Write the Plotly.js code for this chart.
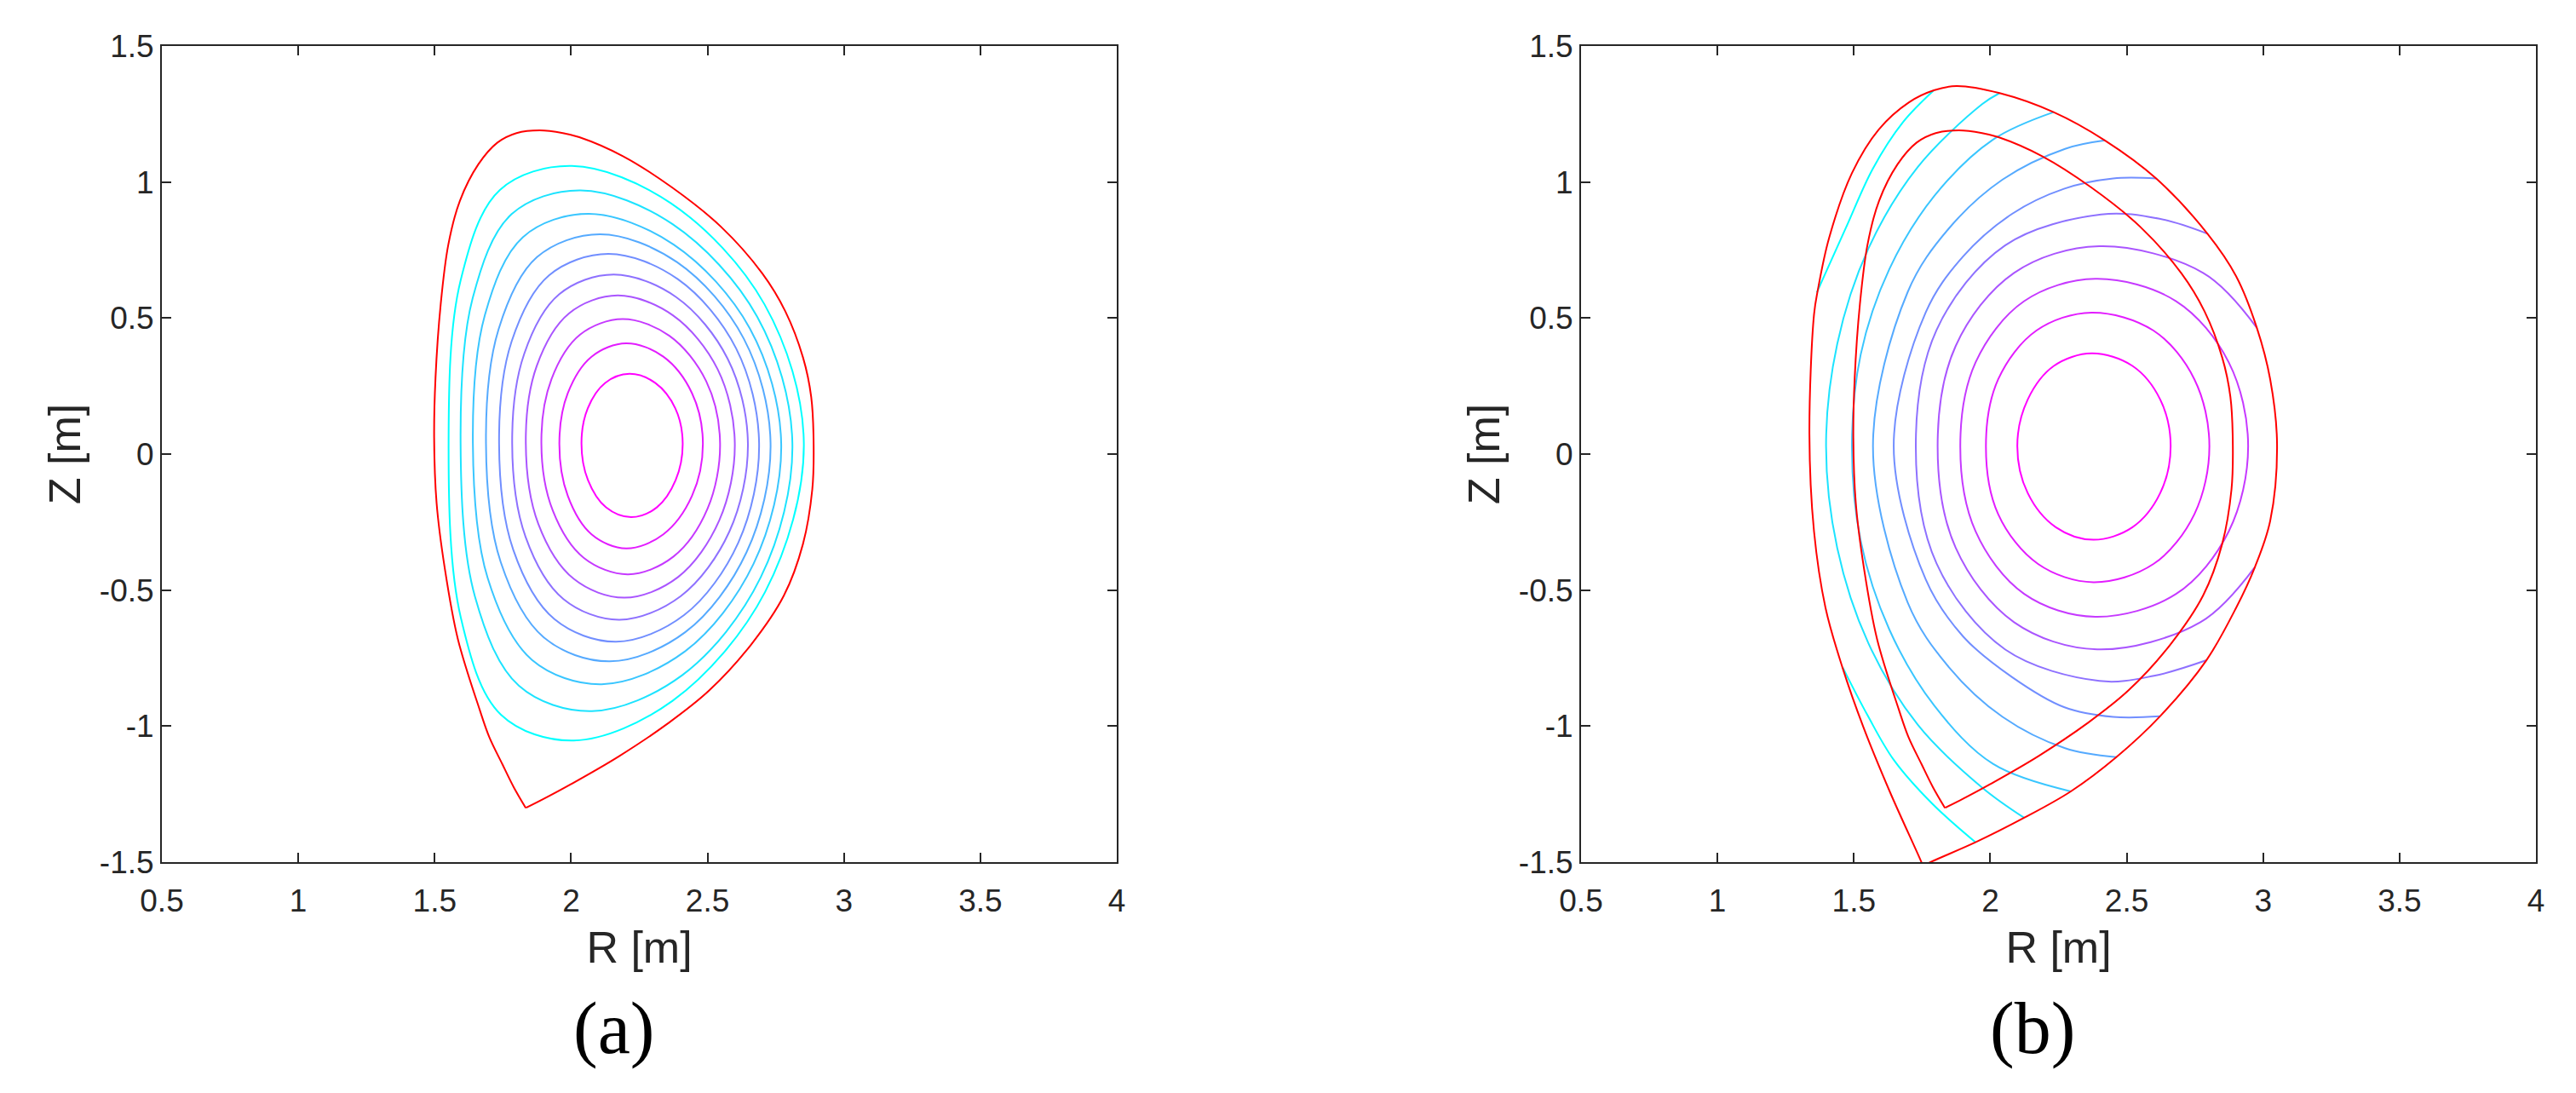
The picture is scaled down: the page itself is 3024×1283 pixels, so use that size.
<!DOCTYPE html>
<html>
<head>
<meta charset="utf-8">
<script src="https://cdn.plot.ly/plotly-3.0.1.min.js"></script>
<style>
html,body{margin:0;padding:0;background:#ffffff;}
#chart{width:3024px;height:1283px;}
</style>
</head>
<body>
<div id="chart"></div>
<script>
// ---------------- tick labels / texts ----------------
const xTickVals = [0.5, 1, 1.5, 2, 2.5, 3, 3.5, 4];
const xTickText = ["0.5", "1", "1.5", "2", "2.5", "3", "3.5", "4"];
const yTickVals = [-1.5, -1, -0.5, 0, 0.5, 1, 1.5];
const yTickText = ["-1.5", "-1", "-0.5", "0", "0.5", "1", "1.5"];
const panelLabels = ["(a)", "(b)"];
const xTitle = "R [m]";
const yTitle = "Z [m]";

// ---------------- last closed flux surface (red, shared by (a) and inner of (b)) ----------------
const lcfsR = [1.834, 1.790, 1.748, 1.700, 1.665, 1.585, 1.537, 1.507, 1.498, 1.503, 1.522, 1.550, 1.592, 1.660, 1.730, 1.800, 1.885, 1.970, 2.030, 2.190, 2.370, 2.550, 2.700, 2.785, 2.850, 2.880, 2.889, 2.884, 2.850, 2.780, 2.660, 2.505, 2.355, 2.175, 2.000, 1.900, 1.835];
const lcfsZ = [-1.301, -1.225, -1.140, -1.040, -0.940, -0.680, -0.420, -0.180, 0.060, 0.280, 0.550, 0.770, 0.930, 1.065, 1.145, 1.180, 1.190, 1.180, 1.165, 1.095, 0.980, 0.835, 0.665, 0.525, 0.355, 0.210, 0.030, -0.130, -0.330, -0.520, -0.700, -0.870, -0.990, -1.111, -1.213, -1.267, -1.300];

// ---------------- (a) flux contours, outer (1) to inner (10) ----------------
const aR1 = [2.853, 2.709, 2.366, 2.003, 1.739, 1.595, 1.551, 1.596, 1.743, 2.010, 2.372, 2.711, 2.853];
const aZ1 = [0.040, 0.550, 0.922, 1.059, 0.971, 0.638, 0.040, -0.602, -0.958, -1.053, -0.907, -0.507, 0.040];
const aR2 = [2.811, 2.682, 2.372, 2.035, 1.782, 1.639, 1.595, 1.648, 1.809, 2.076, 2.407, 2.695, 2.811];
const aZ2 = [0.040, 0.505, 0.845, 0.969, 0.882, 0.572, 0.040, -0.525, -0.852, -0.945, -0.813, -0.453, 0.040];
const aR3 = [2.770, 2.655, 2.376, 2.065, 1.824, 1.684, 1.640, 1.694, 1.856, 2.112, 2.415, 2.669, 2.770];
const aZ3 = [0.040, 0.462, 0.770, 0.883, 0.798, 0.511, 0.040, -0.455, -0.756, -0.846, -0.727, -0.403, 0.040];
const aR4 = [2.731, 2.633, 2.389, 2.106, 1.875, 1.734, 1.688, 1.742, 1.900, 2.142, 2.418, 2.643, 2.731];
const aZ4 = [0.040, 0.424, 0.705, 0.808, 0.724, 0.458, 0.040, -0.397, -0.674, -0.762, -0.655, -0.361, 0.040];
const aR5 = [2.689, 2.605, 2.391, 2.137, 1.919, 1.782, 1.736, 1.788, 1.939, 2.165, 2.414, 2.613, 2.689];
const aZ5 = [0.040, 0.388, 0.643, 0.736, 0.657, 0.414, 0.040, -0.352, -0.607, -0.690, -0.592, -0.325, 0.040];
const aR6 = [2.648, 2.574, 2.385, 2.156, 1.956, 1.828, 1.784, 1.833, 1.972, 2.177, 2.402, 2.580, 2.648];
const aZ6 = [0.040, 0.350, 0.577, 0.660, 0.587, 0.368, 0.040, -0.304, -0.533, -0.609, -0.522, -0.285, 0.040];
const aR7 = [2.600, 2.537, 2.373, 2.171, 1.992, 1.874, 1.834, 1.880, 2.010, 2.196, 2.392, 2.543, 2.600];
const aZ7 = [0.040, 0.312, 0.510, 0.583, 0.517, 0.324, 0.040, -0.257, -0.459, -0.528, -0.452, -0.244, 0.040];
const aR8 = [2.546, 2.495, 2.360, 2.189, 2.033, 1.928, 1.891, 1.933, 2.047, 2.209, 2.375, 2.500, 2.546];
const aZ8 = [0.040, 0.268, 0.435, 0.496, 0.439, 0.275, 0.040, -0.208, -0.382, -0.442, -0.377, -0.201, 0.040];
const aR9 = [2.483, 2.443, 2.338, 2.202, 2.075, 1.988, 1.957, 1.988, 2.075, 2.202, 2.338, 2.443, 2.483];
const aZ9 = [0.040, 0.224, 0.358, 0.407, 0.358, 0.224, 0.040, -0.154, -0.295, -0.347, -0.295, -0.154, 0.040];
const aR10 = [2.409, 2.382, 2.309, 2.214, 2.124, 2.061, 2.038, 2.062, 2.128, 2.220, 2.314, 2.383, 2.409];
const aZ10 = [0.040, 0.168, 0.261, 0.295, 0.261, 0.168, 0.040, -0.096, -0.196, -0.232, -0.196, -0.096, 0.040];

// ---------------- (b) outer boundary (red) ----------------
const outR = [1.753, 1.747, 1.633, 1.535, 1.458, 1.396, 1.354, 1.337, 1.354, 1.368, 1.409, 1.493, 1.591, 1.702, 1.793, 1.876, 2.034, 2.232, 2.420, 2.608, 2.796, 2.901, 2.977, 3.026, 3.051, 3.026, 2.970, 2.901, 2.792, 2.622, 2.462, 2.295, 2.124, 1.946, 1.783, 1.754];
const outZ = [-1.515, -1.499, -1.244, -1.004, -0.784, -0.565, -0.285, 0.074, 0.514, 0.604, 0.794, 1.033, 1.193, 1.293, 1.337, 1.353, 1.327, 1.257, 1.153, 1.013, 0.810, 0.654, 0.464, 0.274, 0.035, -0.245, -0.415, -0.565, -0.758, -0.964, -1.114, -1.240, -1.337, -1.427, -1.499, -1.514];

// ---------------- (b) flux contours, inner (1) to outer (10), clipped at outer boundary ----------------
const bR1 = [2.661, 2.623, 2.521, 2.372, 2.233, 2.137, 2.099, 2.137, 2.240, 2.378, 2.521, 2.623, 2.661];
const bZ1 = [0.030, 0.200, 0.324, 0.370, 0.324, 0.200, 0.030, -0.143, -0.269, -0.315, -0.269, -0.143, 0.030];
const bR2 = [2.803, 2.748, 2.598, 2.371, 2.169, 2.029, 1.984, 2.029, 2.175, 2.378, 2.598, 2.748, 2.803];
const bZ2 = [0.030, 0.275, 0.454, 0.520, 0.454, 0.275, 0.030, -0.221, -0.404, -0.471, -0.404, -0.221, 0.030];
const bR3 = [2.945, 2.874, 2.681, 2.385, 2.124, 1.946, 1.890, 1.946, 2.124, 2.385, 2.681, 2.874, 2.945];
const bZ3 = [0.030, 0.337, 0.562, 0.644, 0.562, 0.337, 0.030, -0.284, -0.514, -0.598, -0.514, -0.284, 0.030];
const bR4 = [2.977, 2.780, 2.399, 2.087, 1.873, 1.807, 1.873, 2.087, 2.392, 2.770, 2.970];
const bZ4 = [0.464, 0.666, 0.764, 0.666, 0.397, 0.030, -0.344, -0.618, -0.718, -0.618, -0.415];
const bR5 = [2.796, 2.620, 2.406, 2.054, 1.803, 1.727, 1.803, 2.054, 2.400, 2.600, 2.792];
const bZ5 = [0.810, 0.865, 0.881, 0.767, 0.456, 0.030, -0.402, -0.718, -0.834, -0.815, -0.758];
const bR6 = [2.608, 2.450, 2.270, 2.080, 1.900, 1.763, 1.646, 1.763, 1.900, 2.080, 2.270, 2.450, 2.622];
const bZ6 = [1.013, 1.013, 0.975, 0.883, 0.726, 0.520, 0.030, -0.460, -0.670, -0.820, -0.930, -0.966, -0.964];
const bR7 = [2.420, 2.274, 2.045, 1.848, 1.697, 1.570, 1.697, 1.848, 2.045, 2.274, 2.462];
const bZ7 = [1.153, 1.122, 1.009, 0.829, 0.595, 0.030, -0.545, -0.783, -0.966, -1.081, -1.114];
const bR8 = [2.232, 2.010, 1.795, 1.630, 1.525, 1.493, 1.525, 1.630, 1.795, 2.010, 2.295];
const bZ8 = [1.257, 1.156, 0.949, 0.680, 0.366, 0.030, -0.319, -0.645, -0.925, -1.139, -1.240];
const bR9 = [2.034, 1.970, 1.734, 1.553, 1.439, 1.398, 1.439, 1.553, 1.734, 1.970, 2.124];
const bZ9 = [1.327, 1.286, 1.055, 0.755, 0.405, 0.030, -0.345, -0.695, -0.995, -1.226, -1.337];
const bR10top = [1.793, 1.680, 1.570, 1.470, 1.364];
const bZ10top = [1.337, 1.220, 1.050, 0.830, 0.594];
const bR10bot = [1.459, 1.550, 1.646, 1.786, 1.946];
const bZ10bot = [-0.784, -0.960, -1.124, -1.284, -1.427];

// ---------------- styles ----------------
// 'cool' colormap, outermost level (cyan) -> innermost level (magenta)
const levelColors = ["#00FFFF", "#1CE3FF", "#39C6FF", "#55AAFF", "#718EFF", "#8E71FF", "#AA55FF", "#C639FF", "#E31CFF", "#FF00FF"];
const boundaryColor = "#FF0000";
const inkColor = "#262626";
const sansFont = "Liberation Sans, Arial, Helvetica, sans-serif";
const serifFont = "Liberation Serif, Times New Roman, serif";

function curve(R, Z, color, xa, ya) {
  return {
    type: "scatter", mode: "lines", x: R, y: Z, xaxis: xa, yaxis: ya,
    line: {shape: "spline", smoothing: 1, width: 2, color: color},
    hoverinfo: "skip", showlegend: false
  };
}

const aContours = [[aR1, aZ1], [aR2, aZ2], [aR3, aZ3], [aR4, aZ4], [aR5, aZ5], [aR6, aZ6], [aR7, aZ7], [aR8, aZ8], [aR9, aZ9], [aR10, aZ10]];
// (b) listed outer -> inner so that index matches levelColors
const bContours = [
  [[bR10top, bZ10top], [bR10bot, bZ10bot]],
  [[bR9, bZ9]], [[bR8, bZ8]], [[bR7, bZ7]], [[bR6, bZ6]], [[bR5, bZ5]],
  [[bR4, bZ4]], [[bR3, bZ3]], [[bR2, bZ2]], [[bR1, bZ1]]
];

const traces = [];
aContours.forEach((c, i) => traces.push(curve(c[0], c[1], levelColors[i], "x", "y")));
traces.push(curve(lcfsR, lcfsZ, boundaryColor, "x", "y"));
bContours.forEach((parts, i) => parts.forEach(c => traces.push(curve(c[0], c[1], levelColors[i], "x2", "y2"))));
traces.push(curve(lcfsR, lcfsZ, boundaryColor, "x2", "y2"));
traces.push(curve(outR, outZ, boundaryColor, "x2", "y2"));

function xAxis(domain, anchor) {
  return {
    domain: domain, anchor: anchor, range: [0.5, 4], autorange: false,
    tickmode: "array", tickvals: xTickVals, ticktext: xTickText,
    ticks: "inside", ticklen: 11, tickwidth: 2, tickcolor: inkColor,
    showline: true, linecolor: inkColor, linewidth: 2, mirror: "ticks",
    showgrid: false, zeroline: false, ticklabelstandoff: 12,
    tickfont: {family: sansFont, size: 37, color: inkColor},
    title: {text: xTitle, standoff: 16, font: {family: sansFont, size: 52, color: inkColor}}
  };
}
function yAxis(domain, anchor) {
  return {
    domain: domain, anchor: anchor, range: [-1.5, 1.5], autorange: false,
    tickmode: "array", tickvals: yTickVals, ticktext: yTickText,
    ticks: "inside", ticklen: 11, tickwidth: 2, tickcolor: inkColor,
    showline: true, linecolor: inkColor, linewidth: 2, mirror: "ticks",
    showgrid: false, zeroline: false, ticklabelstandoff: 0,
    tickfont: {family: sansFont, size: 37, color: inkColor},
    title: {text: yTitle, standoff: 6, font: {family: sansFont, size: 52, color: inkColor}}
  };
}

const yDom = [0.21122, 0.95791];
const layout = {
  width: 3024, height: 1283,
  margin: {l: 0, r: 0, t: 0, b: 0, pad: 0},
  paper_bgcolor: "#ffffff", plot_bgcolor: "#ffffff",
  showlegend: false,
  xaxis: xAxis([0.06283, 0.43353], "y"),
  yaxis: yAxis(yDom, "x"),
  xaxis2: xAxis([0.61376, 0.98446], "y2"),
  yaxis2: yAxis(yDom, "x2"),
  annotations: [
    {xref: "paper", yref: "paper", x: 0.2384, y: 0.0592, xanchor: "center", yanchor: "middle",
     text: panelLabels[0], showarrow: false, font: {family: serifFont, size: 86, color: "#000000"}},
    {xref: "paper", yref: "paper", x: 0.7890, y: 0.0592, xanchor: "center", yanchor: "middle",
     text: panelLabels[1], showarrow: false, font: {family: serifFont, size: 86, color: "#000000"}}
  ]
};

Plotly.newPlot("chart", traces, layout, {displayModeBar: false, staticPlot: true});
</script>
</body>
</html>
